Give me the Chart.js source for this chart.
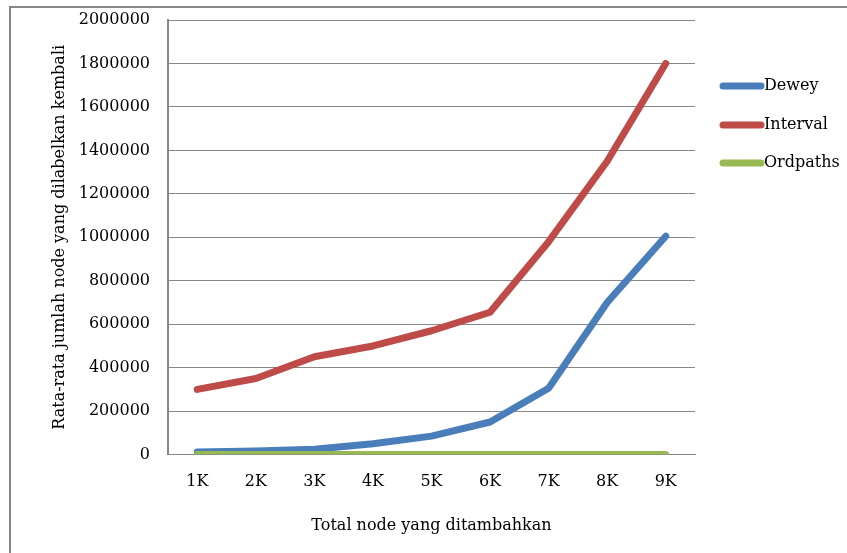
<!DOCTYPE html>
<html>
<head>
<meta charset="utf-8">
<script src="https://cdn.jsdelivr.net/npm/chart.js@4/dist/chart.umd.min.js"></script>
<style>
  html, body { margin: 0; padding: 0; background: #fff; }
  #wrap { width: 847px; height: 553px; }
</style>
</head>
<body>
<div id="wrap"><canvas id="grafico" width="847" height="553"></canvas></div>
<script>
const kategori = ['1K', '2K', '3K', '4K', '5K', '6K', '7K', '8K', '9K']
const dewey = [12000, 16000, 25000, 50000, 85000, 150000, 305000, 700000, 1005000]
const interval = [300000, 350000, 450000, 500000, 570000, 655000, 980000, 1350000, 1800000]
const ordpaths = [1000, 1000, 1000, 1000, 1000, 1000, 1000, 1000, 1000]
const yMax = 2000000
const yStep = 200000

const fuente = "'DejaVu Serif', serif"
const abu = '#878787'

// bingkai luar + legenda manual di kanan
const bingkai = {
  id: 'bingkai',
  beforeDraw(chart) {
    const ctx = chart.ctx
    ctx.save()
    ctx.strokeStyle = abu
    ctx.lineWidth = 2
    ctx.beginPath()
    ctx.moveTo(10, 560)
    ctx.lineTo(10, 7)
    ctx.lineTo(860, 7)
    ctx.stroke()
    ctx.restore()
  },
  afterDraw(chart) {
    const ctx = chart.ctx
    const posY = [86, 125, 163]
    ctx.save()
    ctx.font = '16px ' + fuente
    ctx.textBaseline = 'middle'
    chart.data.datasets.forEach((ds, i) => {
      ctx.strokeStyle = ds.borderColor
      ctx.lineWidth = 7
      ctx.lineCap = 'round'
      ctx.beginPath()
      ctx.moveTo(723, posY[i])
      ctx.lineTo(761, posY[i])
      ctx.stroke()
      ctx.fillStyle = '#000'
      ctx.fillText(ds.label, 764, posY[i])
    })
    ctx.restore()
  }
}

const config = {
  type: 'line',
  data: {
    labels: kategori,
    datasets: [
      { label: 'Dewey', data: dewey, borderColor: '#4a7ebb', order: 3 },
      { label: 'Interval', data: interval, borderColor: '#be4b48', order: 2 },
      { label: 'Ordpaths', data: ordpaths, borderColor: '#98b954', order: 1 }
    ]
  },
  options: {
    responsive: false,
    animation: false,
    layout: { padding: { top: 20, right: 152, bottom: 18, left: 0 } },
    elements: {
      point: { radius: 0 },
      line: { borderWidth: 7, tension: 0, borderCapStyle: 'round', borderJoinStyle: 'round' }
    },
    plugins: {
      legend: { display: false },
      tooltip: { enabled: false }
    },
    scales: {
      x: {
        offset: true,
        grid: { display: false, drawTicks: false },
        border: { color: abu, width: 1 },
        ticks: { color: '#000', font: { family: fuente, size: 16 }, padding: 18 },
        title: {
          display: true,
          text: 'Total node yang ditambahkan',
          color: '#000',
          font: { family: fuente, size: 16 },
          padding: { top: 6, bottom: 0 }
        }
      },
      y: {
        min: 0,
        max: yMax,
        afterFit: (s) => {
          s.width = 168
          s.paddingTop = 0
          s.paddingBottom = 0
        },
        grid: { color: abu, lineWidth: 1, drawTicks: false },
        border: { color: abu, width: 2 },
        ticks: {
          stepSize: yStep,
          color: '#000',
          font: { family: fuente, size: 16 },
          padding: 18,
          callback: (v) => String(v)
        },
        title: {
          display: true,
          text: 'Rata-rata jumlah node yang dilabelkan kembali',
          color: '#000',
          font: { family: fuente, size: 16 },
          padding: { top: 50, bottom: 0 }
        }
      }
    }
  },
  plugins: [bingkai]
}

new Chart(document.getElementById('grafico'), config)
</script>
</body>
</html>
